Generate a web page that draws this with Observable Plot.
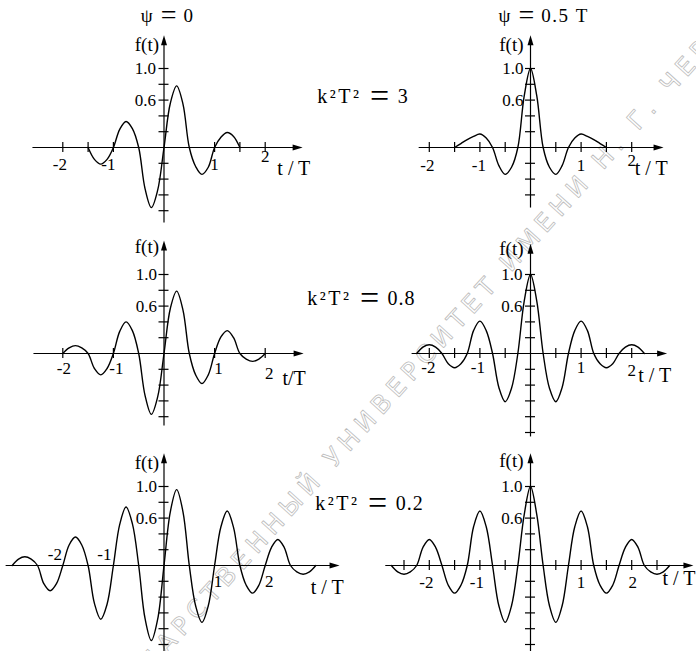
<!DOCTYPE html>
<html><head><meta charset="utf-8">
<script src="https://cdn.jsdelivr.net/npm/d3@7"></script>
<script src="https://cdn.jsdelivr.net/npm/@observablehq/plot@0.6"></script>
<style>
html,body{margin:0;padding:0;background:#fff;}
#chart{position:relative;width:696px;height:651px;overflow:hidden;background:#fff;}
#chart svg{position:absolute;left:0;top:0;background:transparent;}
#chart svg.panel text, #chart svg.panel tspan{font-family:"Liberation Serif","Times New Roman",serif;}
#chart svg.wm text{font-family:"DejaVu Sans",sans-serif;letter-spacing:6px;}
</style></head><body><div id="chart"></div>
<script>
// ---------- data ----------
const tA = [-1.5,-1.375,-1.25,-1.125,-1,-0.875,-0.75,-0.625,-0.5,-0.375,-0.25,-0.125,0,0.125,0.25,0.375,0.5,0.625,0.75,0.875,1,1.125,1.25,1.375,1.5];
const tB = [-2,-1.875,-1.75,-1.625,-1.5,-1.375,-1.25,-1.125,-1,-0.875,-0.75,-0.625,-0.5,-0.375,-0.25,-0.125,0,0.125,0.25,0.375,0.5,0.625,0.75,0.875,1,1.125,1.25,1.375,1.5,1.625,1.75,1.875,2];
const tC = [-2.25,-2.125,-2,-1.875,-1.75,-1.625,-1.5,-1.375,-1.25,-1.125,-1,-0.875,-0.75,-0.625,-0.5,-0.375,-0.25,-0.125,0,0.125,0.25,0.375,0.5,0.625,0.75,0.875,1,1.125,1.25,1.375,1.5,1.625,1.75,1.875,2,2.125,2.25];
const tD = [-3,-2.875,-2.75,-2.625,-2.5,-2.375,-2.25,-2.125,-2,-1.875,-1.75,-1.625,-1.5,-1.375,-1.25,-1.125,-1,-0.875,-0.75,-0.625,-0.5,-0.375,-0.25,-0.125,0,0.125,0.25,0.375,0.5,0.625,0.75,0.875,1,1.125,1.25,1.375,1.5,1.625,1.75,1.875,2,2.125,2.25,2.375,2.5,2.625,2.75,2.875,3];
const tE = [-2.75,-2.625,-2.5,-2.375,-2.25,-2.125,-2,-1.875,-1.75,-1.625,-1.5,-1.375,-1.25,-1.125,-1,-0.875,-0.75,-0.625,-0.5,-0.375,-0.25,-0.125,0,0.125,0.25,0.375,0.5,0.625,0.75,0.875,1,1.125,1.25,1.375,1.5,1.625,1.75,1.875,2,2.125,2.25,2.375,2.5,2.625,2.75];

// psi = 0
const fPsi0K3  = [0,-0.15,-0.21,-0.15,0,0.23,0.33,0.24,0,-0.52,-0.76,-0.54,0,0.56,0.78,0.55,0,-0.24,-0.34,-0.25,0,0.13,0.19,0.14,0];
const fPsi0K08 = [0,0.07,0.10,0.07,0,-0.19,-0.27,-0.19,0,0.28,0.40,0.29,0,-0.53,-0.77,-0.55,0,0.57,0.79,0.55,0,-0.27,-0.38,-0.27,0,0.21,0.29,0.20,0,-0.07,-0.10,-0.07,0];
const fPsi0K02 = [0,0.08,0.11,0.08,0,-0.23,-0.32,-0.23,0,0.26,0.36,0.26,0,-0.48,-0.68,-0.49,0,0.52,0.74,0.53,0,-0.67,-0.95,-0.68,0,0.68,0.96,0.68,0,-0.51,-0.72,-0.51,0,0.49,0.69,0.48,0,-0.25,-0.35,-0.25,0,0.23,0.33,0.23,0,-0.08,-0.11,-0.08,0];
// psi = 0.5 T
const fPsiHK3  = [0,0.05,0.10,0.14,0.17,0.12,0,-0.23,-0.34,-0.25,0,0.65,1.0,0.65,0,-0.25,-0.34,-0.23,0,0.12,0.17,0.14,0.10,0.05,0];
const fPsiHK08 = [0,0.08,0.11,0.08,0,-0.13,-0.18,-0.13,0,0.29,0.41,0.29,0,-0.43,-0.61,-0.44,0,0.66,1.0,0.66,0,-0.44,-0.61,-0.43,0,0.29,0.41,0.29,0,-0.13,-0.18,-0.13,0,0.08,0.11,0.08,0];
const fPsiHK02 = [0,-0.08,-0.11,-0.08,0,0.23,0.33,0.23,0,-0.25,-0.35,-0.25,0,0.49,0.69,0.49,0,-0.51,-0.72,-0.51,0,0.64,1.0,0.64,0,-0.51,-0.72,-0.51,0,0.49,0.69,0.49,0,-0.25,-0.35,-0.25,0,0.23,0.33,0.23,0,-0.08,-0.11,-0.08,0];

// ticks and labels
const xTicksP1 = [-2,-1.5,-1,1,1.5,2];
const xTicksInt = [-2,-1,1,2];
const xTicksHalf2 = [-2,-1.5,-1,-0.5,0.5,1,1.5,2];
const xTicksHalf25 = [-2.5,-2,-1.5,-1,-0.5,0.5,1,1.5,2,2.5];
const yTicks06 = [-0.6,-0.4,-0.2,0.2,0.4,0.6,0.8,1.0];
const yTicks08 = [-0.8,-0.6,-0.4,-0.2,0.2,0.4,0.6,0.8,1.0];
const yTicks10 = [-1.0,-0.8,-0.6,-0.4,-0.2,0.2,0.4,0.6,0.8,1.0];
const xTickLabels = ["-2","-1","1","2"];
const xTickValues = [-2,-1,1,2];
const yTickLabels = ["1.0","0.6"];
const yTickValues = [1.0,0.6];
const fLabel = "f(t)";
const psiLabels = ["ψ = 0","ψ = 0.5 T"];
const kLabels = ["k²T² = 3","k²T² = 0.8","k²T² = 0.2"];
const watermark = ["ГОСУДАРСТВЕННЫЙ УНИВЕРСИТЕТ ИМЕНИ Н. Г. ЧЕРНЫШЕВСКОГО"];

// ---------- layout ----------
const W = 696, H = 651, SX = 50.6, SY = 79;
const FONT = "Liberation Serif";
const upArrow = {draw(c){c.moveTo(0,0);c.lineTo(-3,10);c.lineTo(3,10);c.closePath();}};
const rightArrow = {draw(c){c.moveTo(0,0);c.lineTo(-10,-3);c.lineTo(-10,3);c.closePath();}};

const panels = [
 {ox:163.5, oy:147, t:tA, f:fPsi0K3, xAxis:[-2.6,2.74], yAxis:[-0.95,1.42], xTicks:xTicksP1, yTicks:yTicks08,
  ldx:[-3,-5,0,0], ldy:[17,17,17,9], fty:1.30, ftGap:5, tl:"t / T", tlx:2.24, tly:21, yGap:8,
  psi:psiLabels[0], psiX:-0.46, k:kLabels[0], kx:3.03, ky:0.64},
 {ox:530, oy:147, t:tA, f:fPsiHK3, xAxis:[-2.21,2.63], yAxis:[-0.76,1.42], xTicks:xTicksHalf2, yTicks:yTicks06,
  ldx:[-2,-1,0,0], ldy:[18,18,18,13], fty:1.30, ftGap:7, tl:"t / T", tlx:2.06, tly:21, yGap:7,
  psi:psiLabels[1], psiX:-0.63},
 {ox:163.5, oy:353, t:tB, f:fPsi0K08, xAxis:[-2.58,2.76], yAxis:[-0.91,1.43], xTicks:xTicksInt, yTicks:yTicks08,
  ldx:[1,3,4,4], ldy:[15,15,15,20], fty:1.35, ftGap:5, tl:"t/T", tlx:2.34, tly:25, yGap:7,
  k:kLabels[1], kx:2.83, ky:0.69},
 {ox:530, oy:353, t:tC, f:fPsiHK08, xAxis:[-2.35,2.70], yAxis:[-1.05,1.39], xTicks:xTicksHalf2, yTicks:yTicks10,
  ldx:[-1,-2,0,0], ldy:[14.5,14.5,14.5,17], fty:1.33, ftGap:7, tl:"t / T", tlx:2.13, tly:22, yGap:8},
 {ox:163.5, oy:565, t:tD, f:fPsi0K02, xAxis:[-3.13,3.47], yAxis:[-1.14,1.42], xTicks:[], yTicks:yTicks10,
  ldx:[-8,-9,3.5,4], ldy:[-11,-11,16.5,16.5], fty:1.30, ftGap:5, tl:"t / T", tlx:2.90, tly:22, yGap:7,
  k:kLabels[2], kx:2.99, ky:0.78},
 {ox:530, oy:565, t:tE, f:fPsiHK02, xAxis:[-2.87,3.22], yAxis:[-1.14,1.42], xTicks:xTicksHalf25, yTicks:yTicks10,
  ldx:[-3,-3,0,1], ldy:[17,17,17,17], fty:1.32, ftGap:7, tl:"t / T", tlx:2.61, tly:13, yGap:8}
];

function scales(p){
  return {
    x:{domain:[-p.ox/SX,(W-p.ox)/SX], range:[0,W], axis:null},
    y:{domain:[(p.oy-H)/SY, p.oy/SY], range:[H,0], axis:null}
  };
}

function bigEquals(svg){
  d3.select(svg).selectAll("text").each(function(){
    const s = this.textContent;
    const k = s.indexOf(" = ");
    if (k < 0) return;
    const isK = s.startsWith("k");
    const left = s.slice(0,k), right = s.slice(k+3);
    const t = d3.select(this);
    t.text(null);
    t.append("tspan").attr("letter-spacing", isK ? "2.5px" : "1px").text(left);
    t.append("tspan").attr("font-size", isK ? 34 : 28).attr("dy", isK ? 3.5 : 2).text(" = ");
    t.append("tspan").attr("font-size", isK ? 20 : 19).attr("dy", isK ? -3.5 : -2)
      .attr("letter-spacing", isK ? "1px" : "1.5px").text(right);
  });
}

const chart = document.getElementById("chart");

// watermark layer (uses bottom-left panel coordinates)
{
  const p = panels[4];
  const wm = Plot.plot({width:W, height:H, margin:0, ...scales(p), style:{background:"transparent"},
    marks:[Plot.text(watermark,{x:-1.60, y:-2.16, text:d=>d, rotate:-48, textAnchor:"start",
      fontSize:25, fontFamily:"DejaVu Sans", fill:"none", stroke:"#bcbcbc", strokeWidth:0.8})]});
  wm.classList.add("wm");
  chart.appendChild(wm);
}

for (const p of panels){
  const pts = p.t.map((t,i)=>({t, f:p.f[i]}));
  const tx = {fontFamily:FONT, fill:"black"};
  const marks = [
    Plot.link([p.xAxis],{x1:d=>d[0], x2:d=>d[1]-0.15, y1:0, y2:0, stroke:"black", strokeWidth:1.2}),
    Plot.link([p.yAxis],{x1:0, x2:0, y1:d=>d[0], y2:d=>d[1]-0.08, stroke:"black", strokeWidth:1.2}),
    Plot.ruleX(p.xTicks,{x:d=>d, y1:-5/SY, y2:5/SY, stroke:"black", strokeWidth:1.2}),
    Plot.ruleY(p.yTicks,{y:d=>d, x1:-5/SX, x2:5/SX, stroke:"black", strokeWidth:1.2}),
    Plot.dot([p.yAxis],{x:0, y:d=>d[1], symbol:upArrow, fill:"black"}),
    Plot.dot([p.xAxis],{x:d=>d[1], y:0, symbol:rightArrow, fill:"black"}),
    Plot.line(pts,{x:"t", y:"f", curve:"catmull-rom", stroke:"black", strokeWidth:1.4}),
    Plot.text(xTickLabels,{x:(d,i)=>xTickValues[i]+p.ldx[i]/SX, y:(d,i)=>-p.ldy[i]/SY, text:d=>d, fontSize:17, ...tx}),
    Plot.text(yTickLabels,{x:-p.yGap/SX, y:(d,i)=>yTickValues[i], text:d=>d, textAnchor:"end", fontSize:17, ...tx}),
    Plot.text([fLabel],{x:-p.ftGap/SX, y:p.fty, text:d=>d, textAnchor:"end", fontSize:19, ...tx}),
    Plot.text([p.tl],{x:p.tlx, y:-p.tly/SY, text:d=>d, textAnchor:"start", fontSize:20, ...tx})
  ];
  if (p.psi) marks.push(Plot.text([p.psi],{x:p.psiX, y:1.66, text:d=>d, textAnchor:"start", fontSize:19, ...tx}));
  if (p.k) marks.push(Plot.text([p.k],{x:p.kx, y:p.ky, text:d=>d, textAnchor:"start", fontSize:20, ...tx}));
  const svg = Plot.plot({width:W, height:H, margin:0, ...scales(p), style:{background:"transparent"}, marks});
  svg.classList.add("panel");
  bigEquals(svg);
  chart.appendChild(svg);
}
</script></body></html>
